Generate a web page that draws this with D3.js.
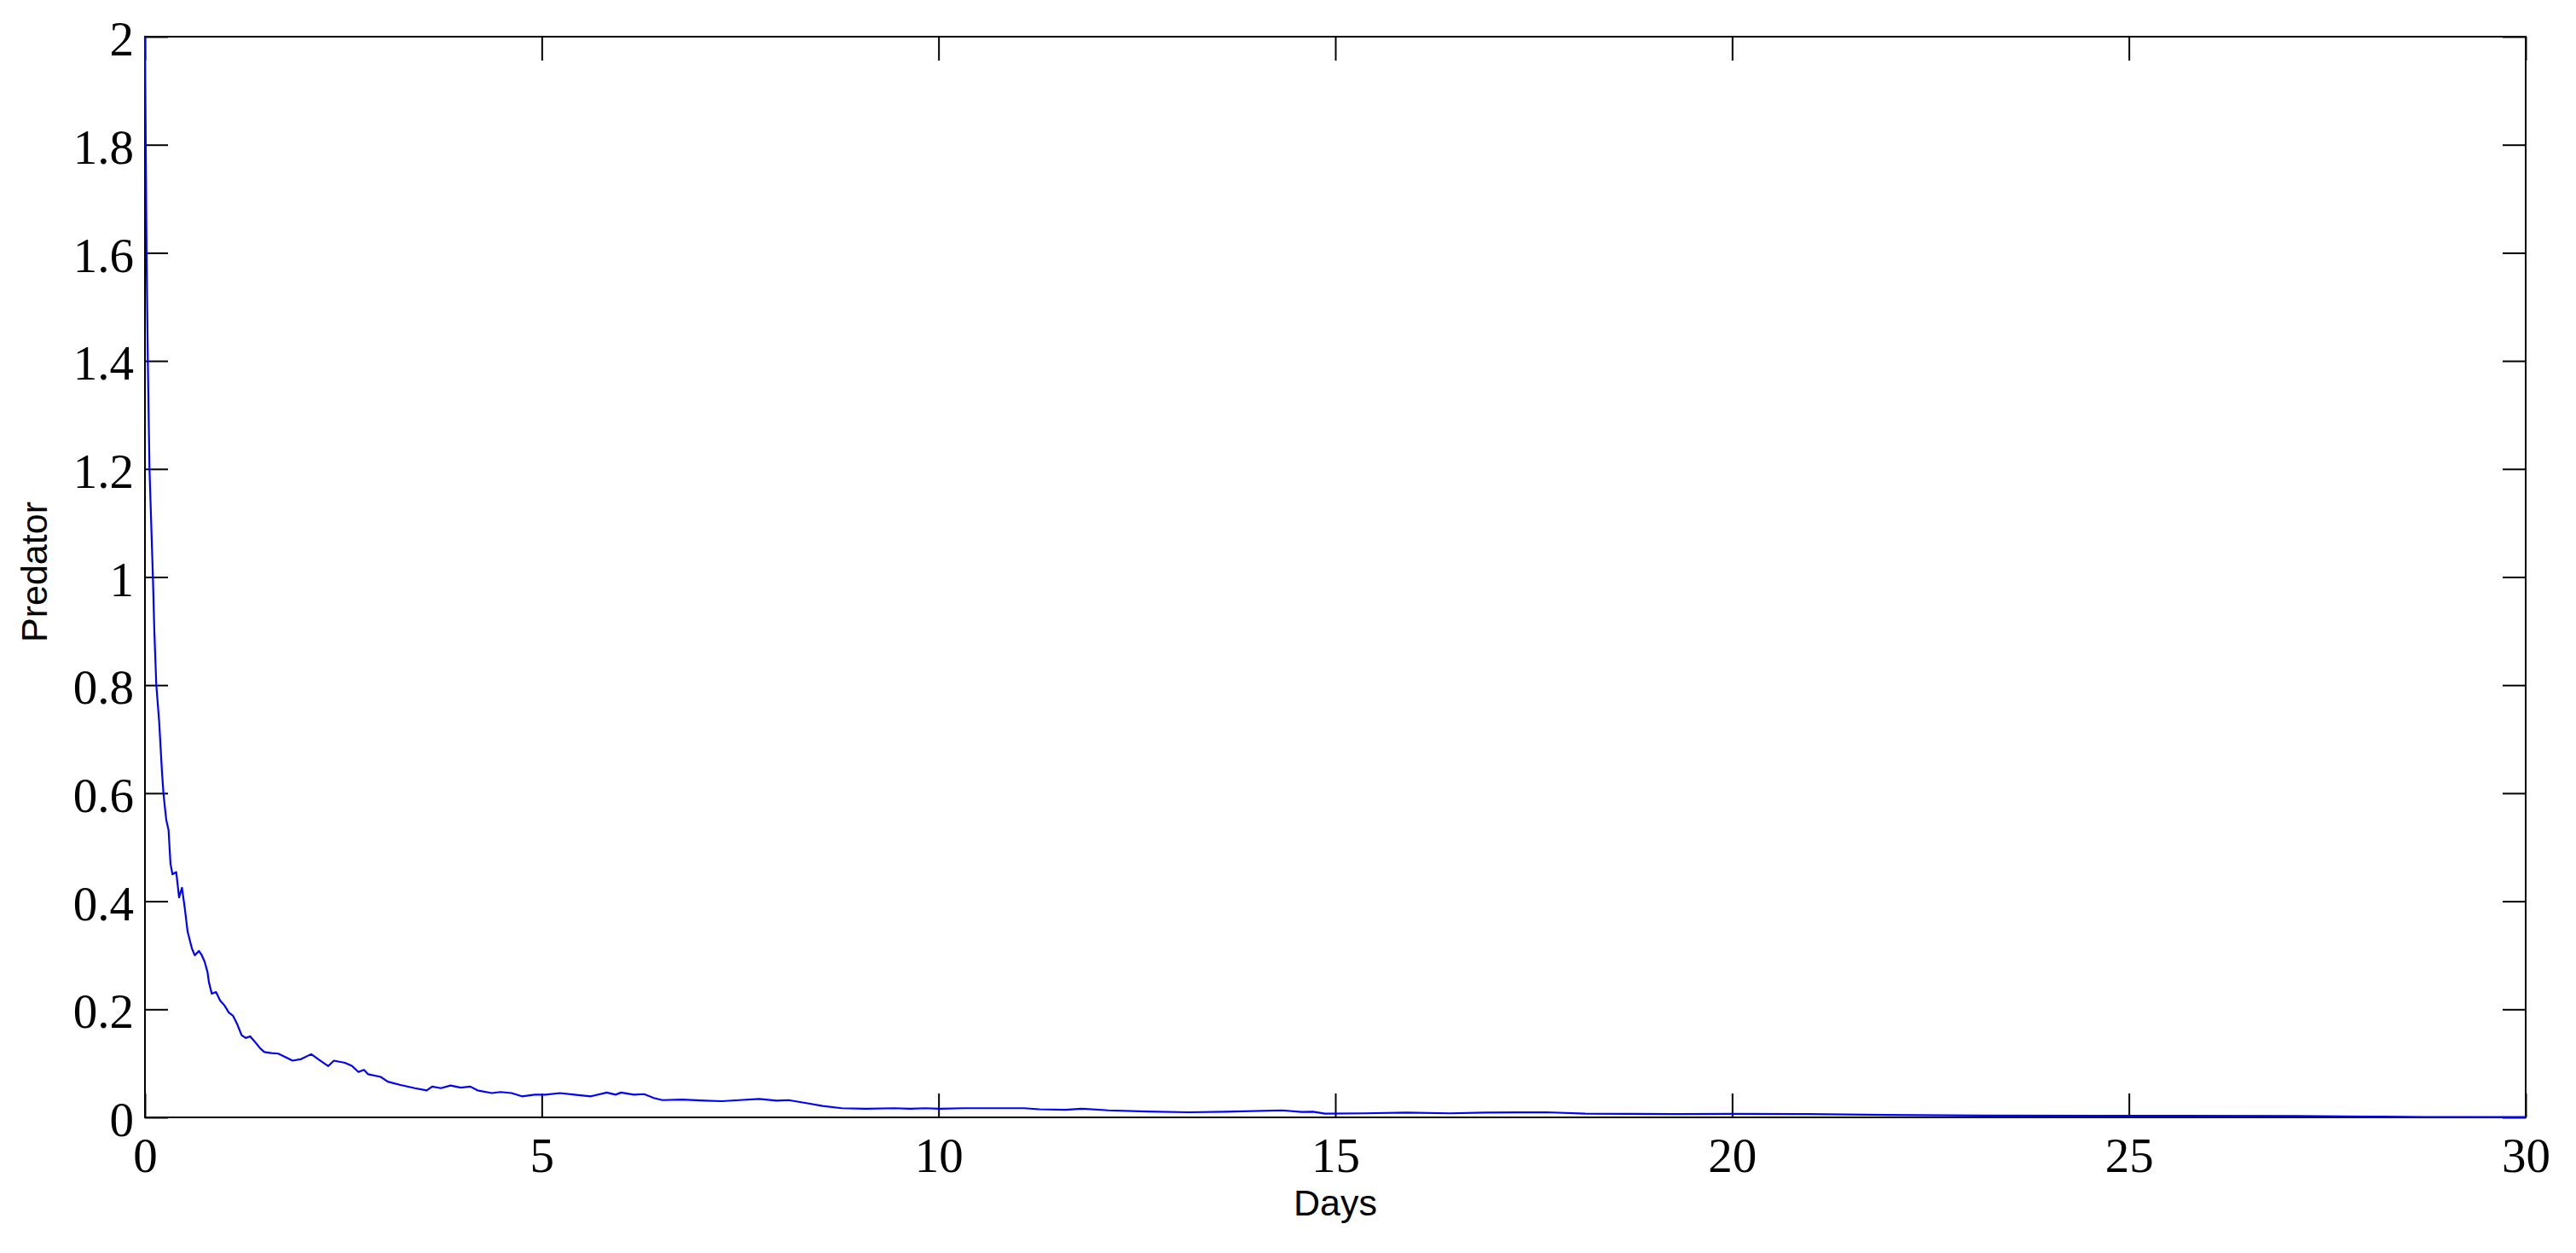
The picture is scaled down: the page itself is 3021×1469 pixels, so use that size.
<!DOCTYPE html>
<html lang="en">

<head>
    <meta charset="UTF-8">
    <title>Predator</title>

    <script src="https://d3js.org/d3.v7.min.js"></script>

    <style>
        body {
            margin: 0;
            background: #ffffff;
        }

        .tick text {
            font-family: "Liberation Serif", "Times New Roman", serif;
            font-size: 57px;
            fill: #000000;
        }

        .tick line {
            stroke: #000000;
            stroke-width: 2px;
        }

        .axis_label {
            font-family: "Liberation Sans", Arial, sans-serif;
            font-size: 43px;
            fill: #000000;
        }
    </style>

</head>

<body>
    <svg width="3021" height="1469"></svg>
    <script>
        // values
        const days = [
            0, 0.01, 0.02, 0.036, 0.057, 0.1, 0.118, 0.143, 0.179, 0.215,
            0.233, 0.25, 0.269, 0.297, 0.322, 0.347, 0.394, 0.43, 0.466, 0.501,
            0.537, 0.591, 0.627, 0.68, 0.716, 0.752, 0.788, 0.806, 0.842, 0.895,
            0.949, 1.003, 1.057, 1.11, 1.164, 1.218, 1.271, 1.325, 1.379, 1.45,
            1.504, 1.594, 1.68, 1.79, 1.86, 1.97, 2.095, 2.2, 2.31, 2.38,
            2.52, 2.61, 2.69, 2.76, 2.81, 2.97, 3.06, 3.22, 3.40, 3.55,
            3.62, 3.73, 3.85, 3.98, 4.10, 4.19, 4.37, 4.48, 4.62, 4.75,
            4.91, 5.05, 5.23, 5.41, 5.62, 5.82, 5.93, 6.0, 6.16, 6.29,
            6.41, 6.52, 6.77, 7.06, 7.27, 7.49, 7.74, 7.96, 8.11, 8.35,
            8.54, 8.78, 9.07, 9.45, 9.64, 9.83, 10.02, 10.31, 10.6, 10.89,
            11.08, 11.27, 11.6, 11.8, 12.14, 12.62, 13.15, 13.62, 14.33, 14.58,
            14.72, 14.87, 15.36, 15.9, 16.44, 16.88, 17.66, 18.15, 19.3, 20.0,
            20.97, 21.94, 23.2, 24.67, 25.64, 27.1, 27.98, 28.75, 30
        ];

        const predator = [
            2.0, 1.8, 1.6, 1.4, 1.2, 1.0, 0.9, 0.8, 0.732, 0.638,
            0.6, 0.575, 0.55, 0.532, 0.469, 0.45, 0.454, 0.407, 0.425, 0.388,
            0.344, 0.313, 0.30, 0.308, 0.30, 0.288, 0.269, 0.25, 0.229, 0.232,
            0.216, 0.207, 0.194, 0.188, 0.172, 0.152, 0.147, 0.15, 0.141, 0.128,
            0.121, 0.119, 0.118, 0.11, 0.105, 0.108, 0.117, 0.106, 0.095, 0.105,
            0.101, 0.095, 0.084, 0.088, 0.08, 0.075, 0.066, 0.060, 0.054, 0.05,
            0.057, 0.054, 0.059, 0.055, 0.057, 0.05, 0.045, 0.047, 0.045, 0.039,
            0.042, 0.042, 0.045, 0.042, 0.039, 0.046, 0.042, 0.046, 0.042, 0.043,
            0.036, 0.032, 0.033, 0.031, 0.030, 0.032, 0.034, 0.031, 0.032, 0.026,
            0.021, 0.017, 0.016, 0.017, 0.016, 0.017, 0.016, 0.017, 0.017, 0.017,
            0.017, 0.015, 0.014, 0.016, 0.013, 0.011, 0.0095, 0.0105, 0.013, 0.01,
            0.0105, 0.007, 0.0075, 0.009, 0.0075, 0.009, 0.0095, 0.007, 0.006, 0.0065,
            0.006, 0.0045, 0.0035, 0.003, 0.003, 0.0025, 0.0015, 0.0008, 0.0005
        ];

        const xTicks = [0, 5, 10, 15, 20, 25, 30];
        const yTicks = [0, 0.2, 0.4, 0.6, 0.8, 1, 1.2, 1.4, 1.6, 1.8, 2];

        const margin = { left: 170, right: 59, top: 43, bottom: 159 };
        const width = 3021, height = 1469;
        const x0 = margin.left, x1 = width - margin.right;
        const y0 = margin.top, y1 = height - margin.bottom;

        const x = d3.scaleLinear().domain([0, 30]).range([x0, x1]);
        const y = d3.scaleLinear().domain([0, 2]).range([y1, y0]);

        const svg = d3.select("svg");
        const fmt = d3.format("~g");

        // bottom axis with labels, ticks pointing inward
        svg.append("g")
            .attr("transform", `translate(0, ${y1})`)
            .call(d3.axisBottom(x).tickValues(xTicks).tickFormat(fmt)
                .tickSizeInner(-28).tickSizeOuter(0).tickPadding(24))
            .call(g => g.select(".domain").remove());

        svg.append("g")
            .attr("transform", `translate(0, ${y0})`)
            .call(d3.axisTop(x).tickValues(xTicks).tickFormat("")
                .tickSizeInner(-28).tickSizeOuter(0))
            .call(g => g.select(".domain").remove());

        svg.append("g")
            .attr("transform", `translate(${x0}, 0)`)
            .call(d3.axisLeft(y).tickValues(yTicks).tickFormat(fmt)
                .tickSizeInner(-27).tickSizeOuter(0).tickPadding(13))
            .call(g => g.select(".domain").remove())
            .call(g => g.selectAll(".tick text").attr("dy", "0.38em"));

        svg.append("g")
            .attr("transform", `translate(${x1}, 0)`)
            .call(d3.axisRight(y).tickValues(yTicks).tickFormat("")
                .tickSizeInner(-27).tickSizeOuter(0))
            .call(g => g.select(".domain").remove());

        // box
        svg.append("rect")
            .attr("x", x0)
            .attr("y", y0)
            .attr("width", x1 - x0)
            .attr("height", y1 - y0)
            .attr("fill", "none")
            .attr("stroke", "#000000")
            .attr("stroke-width", 2);

        const line = d3.line()
            .x((d, i) => x(days[i]))
            .y(d => y(d));

        svg.append("path")
            .datum(predator)
            .attr("d", line)
            .attr("fill", "none")
            .attr("stroke", "#0000ff")
            .attr("stroke-width", 2.2)
            .attr("stroke-linejoin", "round");

        svg.append("text")
            .attr("class", "axis_label")
            .attr("x", (x0 + x1) / 2)
            .attr("y", 1425)
            .attr("text-anchor", "middle")
            .text("Days");

        svg.append("text")
            .attr("class", "axis_label")
            .attr("transform", `translate(55, ${(y0 + y1) / 2 - 6}) rotate(-90)`)
            .attr("text-anchor", "middle")
            .text("Predator");
    </script>
</body>

</html>
